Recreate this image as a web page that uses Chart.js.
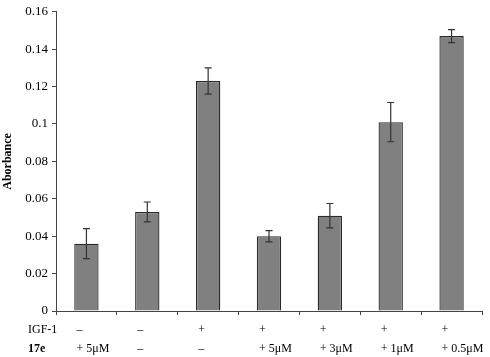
<!DOCTYPE html>
<html>
<head>
<meta charset="utf-8">
<script src="https://cdn.jsdelivr.net/npm/chart.js@4"></script>
<style>
  html, body { margin: 0; padding: 0; background: #fff; }
  #wrap { width: 490px; height: 357px; }
</style>
</head>
<body>
<div id="wrap"><canvas id="absChart"></canvas></div>
<script>
// Data
const igfRow = ['–', '–', '+', '+', '+', '+', '+'];
const cmpRow = ['+ 5μM', '–', '–', '+ 5μM', '+ 3μM', '+ 1μM', '+ 0.5μM'];
const absorbance = [0.036, 0.053, 0.123, 0.040, 0.051, 0.101, 0.147];
const errors = [0.008, 0.0053, 0.007, 0.003, 0.0065, 0.0105, 0.0035];
const yTicks = ['0', '0.02', '0.04', '0.06', '0.08', '0.1', '0.12', '0.14', '0.16'];
const rowNames = ['IGF-1', '17e'];

const labels = igfRow.map((v, i) => [v, cmpRow[i]]);

// error bars
const errorBars = {
    id: 'errorBars',
    afterDatasetsDraw(chart) {
        const ctx = chart.ctx;
        const meta = chart.getDatasetMeta(0);
        const y = chart.scales.y;
        ctx.save();
        ctx.strokeStyle = '#333';
        ctx.lineWidth = 1.2;
        meta.data.forEach((bar, i) => {
            const top = y.getPixelForValue(absorbance[i] + errors[i]);
            const bot = y.getPixelForValue(absorbance[i] - errors[i]);
            ctx.beginPath();
            ctx.moveTo(bar.x, top); ctx.lineTo(bar.x, bot);
            ctx.moveTo(bar.x - 3.5, top); ctx.lineTo(bar.x + 3.5, top);
            ctx.moveTo(bar.x - 3.5, bot); ctx.lineTo(bar.x + 3.5, bot);
            ctx.stroke();
        });
        ctx.restore();
    }
};

// row names at the left of the category labels
const rowLabels = {
    id: 'rowLabels',
    afterDraw(chart) {
        const ctx = chart.ctx;
        const base = chart.chartArea.bottom;
        ctx.save();
        ctx.fillStyle = '#000';
        ctx.textBaseline = 'middle';
        ctx.textAlign = 'left';
        ctx.font = '12px "Liberation Serif", serif';
        ctx.fillText(rowNames[0], 28, base + 19);
        ctx.font = 'bold 12px "Liberation Serif", serif';
        ctx.fillText(rowNames[1], 28, base + 38);
        ctx.restore();
    }
};

new Chart(document.getElementById('absChart'), {
    type: 'bar',
    data: {
        labels: labels,
        datasets: [{
            data: absorbance,
            backgroundColor: '#808080',
            borderColor: '#2a2a2a',
            borderWidth: 1.3,
            categoryPercentage: 0.4,
            barPercentage: 1
        }]
    },
    options: {
        responsive: true,
        maintainAspectRatio: false,
        animation: false,
        layout: { padding: { top: 9, right: 8, left: 0, bottom: 0 } },
        plugins: {
            legend: { display: false },
            tooltip: { enabled: false }
        },
        scales: {
            x: {
                grid: { display: true, drawOnChartArea: false, offset: true, tickLength: 4, color: '#444' },
                border: { color: '#444', width: 1 },
                ticks: {
                    color: '#000',
                    font: { family: '"Liberation Serif", serif', size: 12, lineHeight: 1.58 },
                    align: 'start',
                    labelOffset: -10,
                    maxRotation: 0,
                    autoSkip: false,
                    padding: 5
                },
                afterFit(scale) {
                    scale.height = 46;
                    scale.paddingLeft = 0;
                    scale.paddingRight = 0;
                }
            },
            y: {
                min: 0,
                max: 0.16,
                grid: { display: true, drawOnChartArea: false, tickLength: 4, color: '#444' },
                border: { color: '#444', width: 1 },
                ticks: {
                    stepSize: 0.02,
                    color: '#000',
                    padding: 4,
                    font: { family: '"Liberation Serif", serif', size: 13 },
                    callback: (v, i) => yTicks[i]
                },
                title: {
                    display: true,
                    text: 'Aborbance',
                    color: '#000',
                    font: { family: '"Liberation Serif", serif', size: 12, weight: 'bold' },
                    padding: { top: 1, bottom: 0 }
                },
                afterFit(scale) { scale.width = 56; }
            }
        }
    },
    plugins: [errorBars, rowLabels]
});
</script>
</body>
</html>
